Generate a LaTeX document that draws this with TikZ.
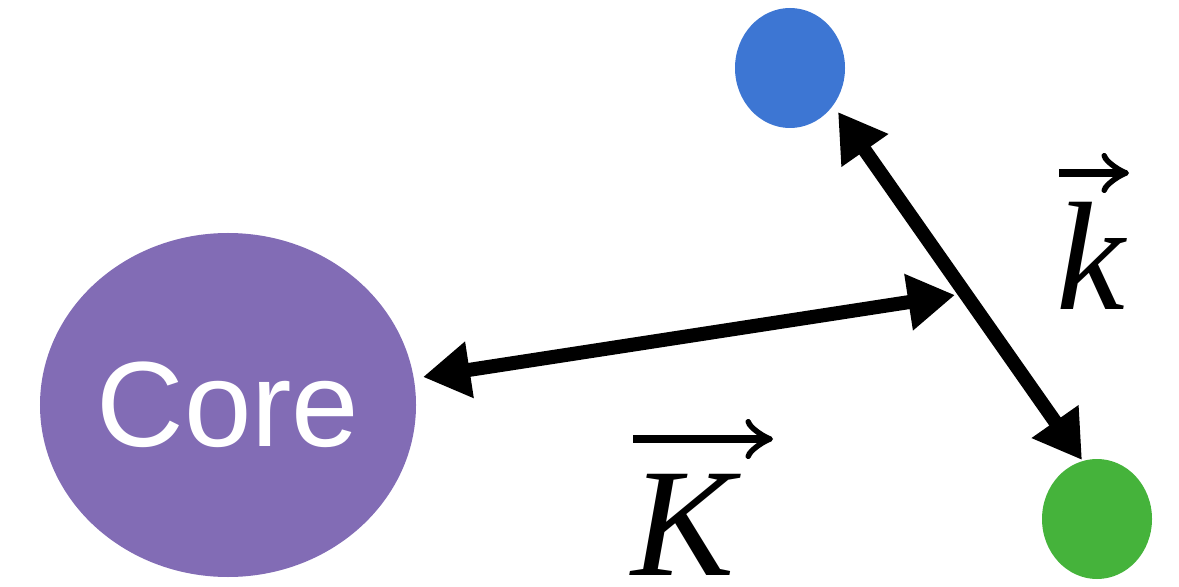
\documentclass[tikz,border=0pt]{standalone}
\usepackage{fontspec}
\setmainfont{Liberation Serif}
\newfontfamily\corefont{Liberation Sans}
\usetikzlibrary{arrows.meta, positioning, shapes.geometric}
\definecolor{CorePurple}{HTML}{826CB5}
\definecolor{PartBlue}{HTML}{3D76D3}
\definecolor{PartGreen}{HTML}{45B33B}

\begin{document}
\begin{tikzpicture}[
    x=0.2mm, y=-0.2mm,
    core/.style={ellipse, fill=CorePurple, minimum width=75.2mm, minimum height=68.8mm,
        inner sep=0pt, text=white, font=\corefont\fontsize{69}{69}\selectfont},
    particle/.style={ellipse, minimum width=22mm, minimum height=24mm, inner sep=0pt},
    vecline/.style={line width=2.8mm, {Triangle[length=9.4mm, width=10.8mm]}-{Triangle[length=9.4mm, width=10.8mm]}},
    veclabel/.style={font=\fontsize{88}{88}\selectfont\itshape, inner sep=0pt, anchor=base west},
    overarrow/.style={line width=1.7mm, -{Classical TikZ Rightarrow[length=5.5mm, width=8mm, line width=1.1mm]}}
]
\useasboundingbox (0,0) rectangle (1179,587);

\node[core] (core) at (228,405) {\raisebox{-1.4mm}{Core}};
\node[particle, fill=PartBlue] (blue) at (790,68) {};
\node[particle, fill=PartGreen] (green) at (1097,519) {};

% end points of the two vectors
\coordinate (Kstart) at (423,377);
\coordinate (Kend) at (955,295);
\coordinate (kstart) at (838,112);
\coordinate (kend) at (1082,460);

\draw[vecline] (Kstart) -- (Kend);
\draw[vecline] (kstart) -- (kend);

% labels and their arrows
\node[veclabel] (klab) at (1056,310) {k};
\node[veclabel] (Klab) at (631,575) {K};
\coordinate (karrow) at (1059,173);
\coordinate (Karrow) at (633,439);
\draw[overarrow, line width=1.5mm] (karrow) -- ++(70,0);
\draw[overarrow] (Karrow) -- ++(140,0);

\end{tikzpicture}
\end{document}
